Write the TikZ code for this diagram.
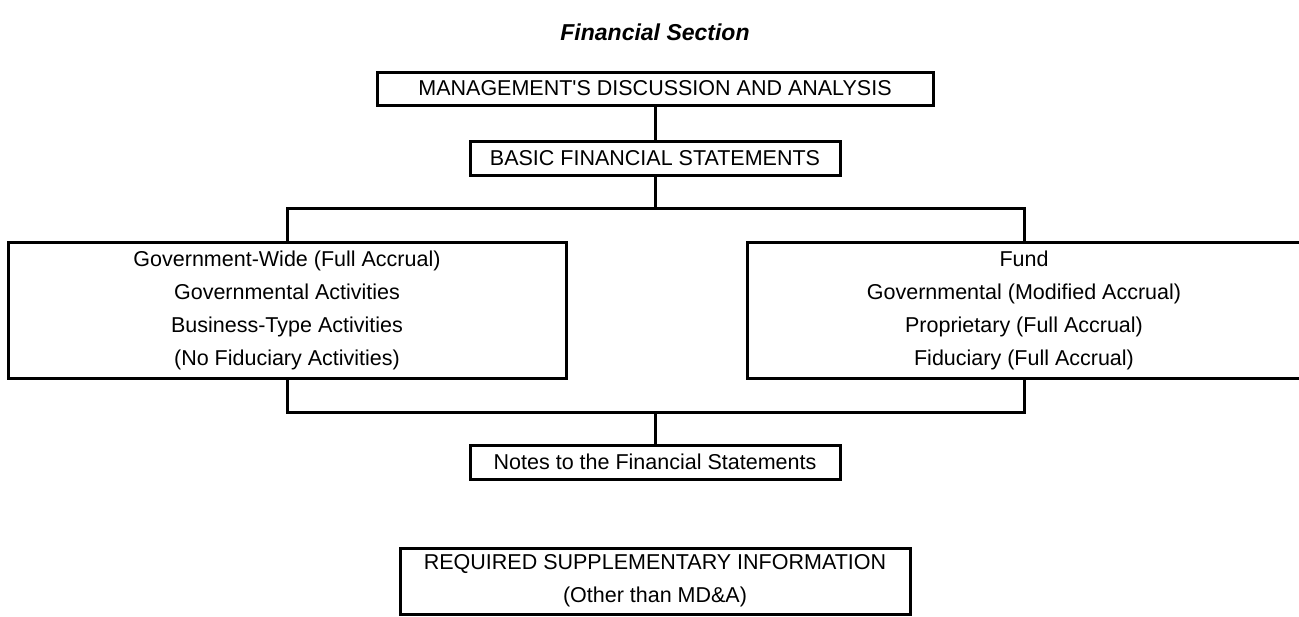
\documentclass[tikz,border=0pt]{standalone}
\usepackage{fontspec}
\setmainfont{Liberation Sans}
\usetikzlibrary{positioning}

\tikzset{
  sbox/.style={draw, rectangle, inner sep=0pt, align=center,
    font=\fontsize{10.75}{16.5}\selectfont},
  wide/.style={sbox, minimum width=278pt, minimum height=16.5pt},
  narrow/.style={sbox, minimum width=185pt, minimum height=17pt},
  big/.style={sbox, minimum height=68pt},
}

\begin{document}
\begin{tikzpicture}[x=0.5pt, y=-0.5pt, line width=1.5pt]

\useasboundingbox (0,0) rectangle (1299,616);

% title
\node[font=\bfseries\itshape\fontsize{11.5}{14}\selectfont] (title) at (655,32) {Financial Section};

% boxes
\node[wide] (mda) at (655,88.5) {MANAGEMENT\textquotesingle S DISCUSSION AND ANALYSIS};
\node[narrow] (bfs) at (655,158) {BASIC FINANCIAL STATEMENTS};

\node[big, minimum width=279pt] (gw) at (287,310)
  {Government-Wide (Full Accrual)\\Governmental Activities\\Business-Type Activities\\(No Fiduciary Activities)};
\node[big, minimum width=277pt] (fund) at (1024,310)
  {Fund\\Governmental (Modified Accrual)\\Proprietary (Full Accrual)\\Fiduciary (Full Accrual)};

\node[narrow] (notes) at (655,462) {Notes to the Financial Statements};
\node[sbox, minimum width=255pt, minimum height=33pt] (rsi) at (655,581)
  {REQUIRED SUPPLEMENTARY INFORMATION\\(Other than MD\&A)};

% connectors
\coordinate (topbar) at (655,208);
\coordinate (botbar) at (655,412);

\draw (mda.south) -- (bfs.north);
\draw (bfs.south) -- (topbar);
\draw (gw.north) |- (topbar) -| (fund.north);
\draw (gw.south) |- (botbar) -| (fund.south);
\draw (botbar) -- (notes.north);

\end{tikzpicture}
\end{document}
